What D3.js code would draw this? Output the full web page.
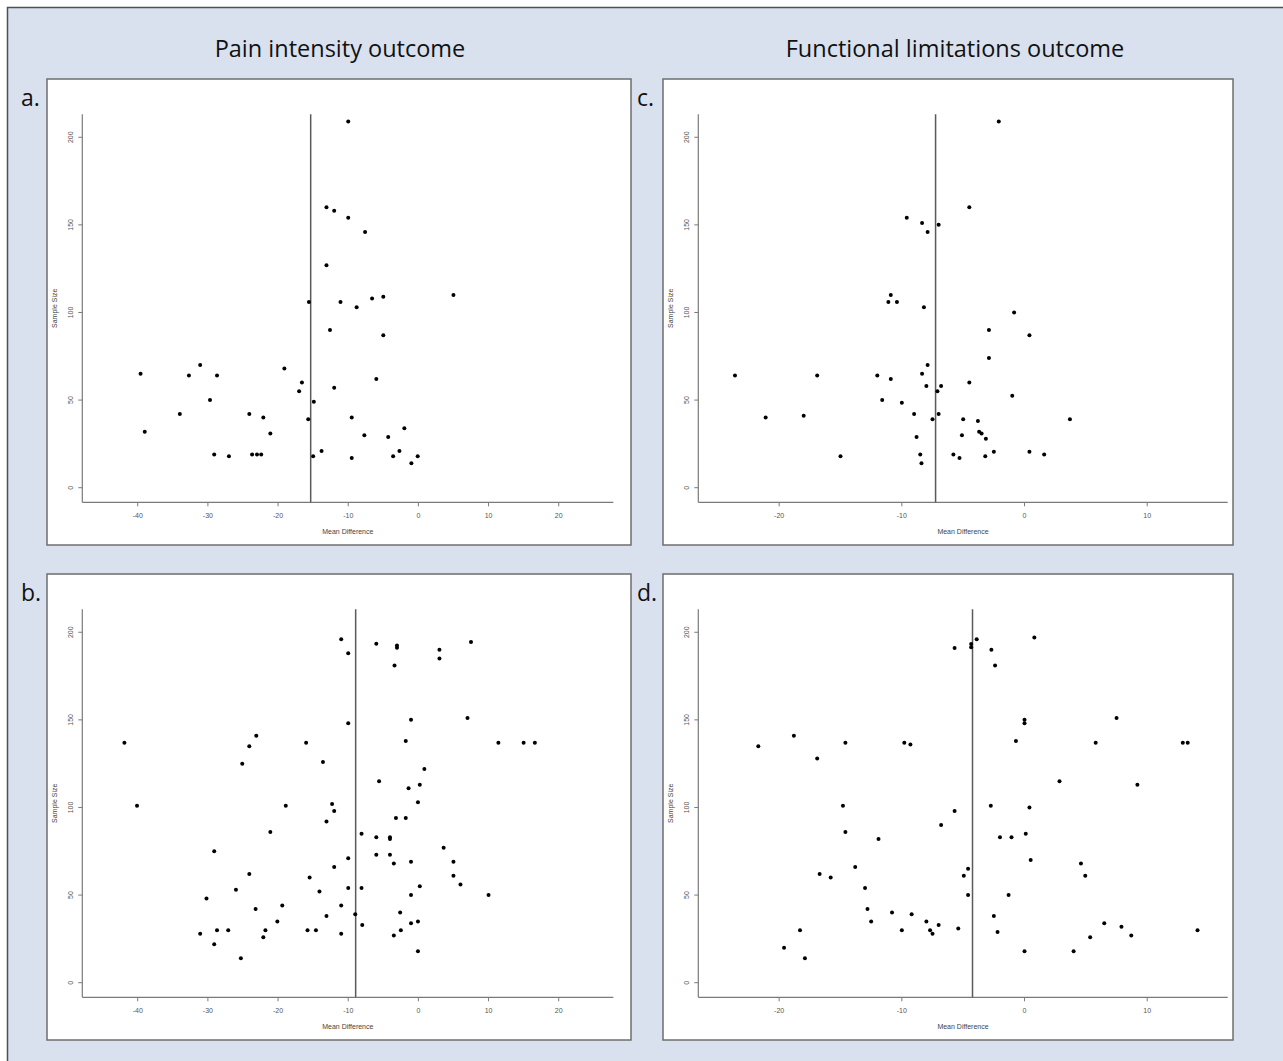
<!DOCTYPE html>
<html>
<head>
<meta charset="utf-8">
<script src="https://cdn.jsdelivr.net/npm/d3@7"></script>
<style>
  body { margin: 0; background: #fff; }
  svg { display: block; }
</style>
</head>
<body>
<div id="chart"></div>
<script>
// titles and panel letters
const columnTitles = ["Pain intensity outcome", "Functional limitations outcome"];
const panelLetters = ["a.", "b.", "c.", "d."];

// axis ticks
const yTicks = [0, 50, 100, 150, 200];
const painTicks = [-40, -30, -20, -10, 0, 10, 20];
const funcTicks = [-20, -10, 0, 10];

// pooled mean difference (vertical line) per panel
const pooled = {a: -15.35, b: -8.94, c: -7.25, d: -4.24};

// panel a: pain intensity, mean difference vs sample size
const aDiff = [-10.0, -13.1, -12.0, -10.0, -7.6, -13.1, -15.6, -11.1, -8.8, -6.6, -5.0, 5.0, -12.6, -5.0,
  -39.6, -39.0, -31.1, -32.7, -28.7, -29.7, -34.0, -24.1, -22.1, -21.1, -19.1, -16.6, -17.0, -14.9, -15.7,
  -29.1, -27.0, -23.7, -23.0, -22.4, -15.0, -13.8, -12.0, -9.5, -9.5, -6.0, -2.0, -7.7, -4.3, -2.7, -3.6, -0.1, -1.0];
const aSize = [209, 160, 158, 154, 146, 127, 106, 106, 103, 108, 109, 110, 90, 87,
  65, 32, 70, 64, 64, 50, 42, 42, 40, 31, 68, 60, 55, 49, 39,
  19, 18, 19, 19, 19, 18, 21, 57, 40, 17, 62, 34, 30, 29, 21, 18, 18, 14];

// panel b: pain intensity
const bDiff = [-41.9, -40.1, -23.1, -24.1, -25.1, -16.0, -13.6, -18.9, -13.1, -21.1, -29.1, -24.1, -26.0, -15.5,
  -14.1, -30.2, -23.2, -19.4, -20.1, -13.1, -31.1, -28.7, -27.1, -21.8, -22.1, -29.1, -25.3, -15.8, -14.6,
  -11.0, -10.0, -6.0, -3.05, -3.05, -3.4, 3.0, 3.0, 7.5, -10.0, -1.05, 7.0, -1.8, 11.4, 15.0, 16.6,
  0.85, -5.6, 0.2, -1.4, -0.06, -12.3, -12.0, -3.2, -1.8, -8.1, -6.0, -4.05, -4.05, 3.6, -10.0, -6.0,
  -4.05, -3.5, -1.05, 5.0, -12.0, 5.0, 6.0, -10.0, -8.1, 0.2, -1.05, 10.0, -11.0, -9.0, -2.6, -8.0,
  -1.05, -0.06, -2.5, -11.0, -3.5, -0.06];
const bSize = [137, 101, 141, 135, 125, 137, 126, 101, 92, 86, 75, 62, 53, 60,
  52, 48, 42, 44, 35, 38, 28, 30, 30, 30, 26, 22, 14, 30, 30,
  196, 188, 193.5, 192.4, 191.2, 181, 190, 185, 194.5, 148, 150, 151, 138, 137, 137, 137,
  122, 115, 113, 111, 103, 102, 98, 94, 94, 85, 83, 83, 82, 77, 71, 73,
  73, 68, 69, 69, 66, 61, 56, 54, 54, 55, 50, 50, 44, 39, 40, 33,
  34, 35, 30, 28, 27, 18];

// panel c: functional limitations
const cDiff = [-9.6, -8.35, -7.9, -7.0, -10.9, -11.1, -10.4, -8.2, -2.1, -4.5, -0.85, -23.6, -16.9, -21.1,
  -18.0, -15.0, -12.0, -10.9, -11.6, -10.0, -7.9, -8.35, -8.0, -6.8, -7.1, -9.0, -7.0, -7.5, -8.8,
  -8.5, -8.4, -2.9, 0.4, -2.9, -4.5, -1.0, -5.0, -3.8, 3.7, -5.1, -3.7, -3.5, -3.15, -2.5, -3.2,
  0.4, 1.6, -5.8, -5.3];
const cSize = [154, 151, 146, 150, 110, 106, 106, 103, 209, 160, 100, 64, 64, 40,
  41, 18, 64, 62, 50, 48.5, 70, 65, 58, 58, 55, 42, 42, 39, 29,
  19, 14, 90, 87, 74, 60, 52.5, 39, 38, 39, 30, 32, 31, 28, 20.5, 18,
  20.5, 19, 19, 17];

// panel d: functional limitations
const dDiff = [-21.7, -18.8, -16.9, -14.6, -9.8, -9.3, -5.7, -4.35, -4.35, -3.9, -2.7, -2.4, 0.8,
  0.0, 0.0, 7.5, -0.7, 5.8, 12.9, 13.3, 2.85, 9.2, -14.8, -5.7, -2.75, 0.4, -14.6, -6.8, -11.9,
  -2.0, -1.06, 0.1, 0.5, -13.8, -16.7, -15.8, -4.6, -4.95, 4.6, 4.95, -13.0, -4.6, -1.3, -12.8,
  -10.8, -9.2, -12.5, -8.0, -7.0, -2.5, -18.3, -10.0, -7.7, -7.5, -5.4, -2.2, -19.6, -17.9, 0.0,
  4.0, 5.35, 6.5, 7.9, 8.7, 14.1];
const dSize = [135, 141, 128, 137, 137, 136, 191, 193.3, 191.4, 196, 190, 181, 197,
  150, 148, 151, 138, 137, 137, 137, 115, 113, 101, 98, 101, 100, 86, 90, 82,
  83, 83, 85, 70, 66, 62, 60, 65, 61, 68, 61, 54, 50, 50, 42,
  40, 39, 35, 35, 33, 38, 30, 30, 30, 28, 31, 29, 20, 14, 18,
  18, 26, 34, 32, 27, 30];

const width = 1283, height = 1061;

const svg = d3.select("#chart")
  .append("svg")
    .attr("width", width)
    .attr("height", height);

// light blue backdrop with dark frame
svg.append("rect")
  .attr("x", 7.5).attr("y", 7.5)
  .attr("width", width + 20).attr("height", height + 20)
  .attr("fill", "#d9e1ef")
  .attr("stroke", "#505050")
  .attr("stroke-width", 1.5);

svg.selectAll("text.coltitle")
  .data(columnTitles)
  .join("text")
    .attr("class", "coltitle")
    .attr("x", (d, i) => i === 0 ? 340 : 955)
    .attr("y", 57)
    .attr("text-anchor", "middle")
    .attr("font-family", "Open Sans, sans-serif")
    .attr("font-size", "23.5px")
    .attr("fill", "#111")
    .text(d => d);

// panel layout
const boxH = 466;
const margin = {top: 35.3, bottom: 42.7, left: 35.3};

const panels = [
  {key: "a", x0: 47, y0: 79, w: 584, right: 17.7, diff: aDiff, size: aSize, xlim: [-47.9, 27.78], ticks: painTicks},
  {key: "b", x0: 47, y0: 574, w: 584, right: 17.7, diff: bDiff, size: bSize, xlim: [-47.9, 27.78], ticks: painTicks},
  {key: "c", x0: 663, y0: 79, w: 570, right: 5.3, diff: cDiff, size: cSize, xlim: [-26.59, 16.56], ticks: funcTicks},
  {key: "d", x0: 663, y0: 574, w: 570, right: 5.3, diff: dDiff, size: dSize, xlim: [-26.59, 16.56], ticks: funcTicks}
];

panels.forEach((p, i) => {
  // letter label
  svg.append("text")
    .attr("x", p.x0 - 26)
    .attr("y", p.y0 + 27)
    .attr("font-family", "Open Sans, sans-serif")
    .attr("font-size", "23px")
    .attr("fill", "#111")
    .text(panelLetters[i === 0 ? 0 : i === 1 ? 1 : i === 2 ? 2 : 3]);

  const g = svg.append("g")
    .attr("transform", `translate(${p.x0}, ${p.y0})`);

  g.append("rect")
    .attr("width", p.w).attr("height", boxH)
    .attr("fill", "#fff")
    .attr("stroke", "#6e6e6e")
    .attr("stroke-width", 1.5);

  const x = d3.scaleLinear()
    .domain(p.xlim)
    .range([margin.left, p.w - p.right]);
  const y = d3.scaleLinear()
    .domain([-8.33, 213.1])
    .range([boxH - margin.bottom, margin.top]);

  const axisColor = "#7a7a7a";
  const x1 = x.range()[0], x2 = x.range()[1];
  const yb = y.range()[0], yt = y.range()[1];

  // axis lines (L shape)
  g.append("line")
    .attr("x1", x1).attr("x2", x1).attr("y1", yt).attr("y2", yb)
    .attr("stroke", axisColor).attr("stroke-width", 1.2);
  g.append("line")
    .attr("x1", x1).attr("x2", x2).attr("y1", yb).attr("y2", yb)
    .attr("stroke", axisColor).attr("stroke-width", 1.2);

  // x ticks
  g.selectAll("line.xt")
    .data(p.ticks)
    .join("line")
      .attr("x1", d => x(d)).attr("x2", d => x(d))
      .attr("y1", yb).attr("y2", yb + 4)
      .attr("stroke", axisColor);
  g.selectAll("text.xt")
    .data(p.ticks)
    .join("text")
      .attr("class", "xt")
      .attr("x", d => x(d))
      .attr("y", yb + 16)
      .attr("text-anchor", "middle")
      .attr("font-family", "Liberation Sans, Arial, sans-serif")
      .attr("font-size", "7px")
      .attr("fill", "#555")
      .text(d => d);

  // y ticks
  g.selectAll("line.yt")
    .data(yTicks)
    .join("line")
      .attr("x1", x1 - 4).attr("x2", x1)
      .attr("y1", d => y(d)).attr("y2", d => y(d))
      .attr("stroke", axisColor);
  g.selectAll("text.yt")
    .data(yTicks)
    .join("text")
      .attr("class", "yt")
      .attr("transform", d => `translate(${x1 - 9}, ${y(d)}) rotate(-90)`)
      .attr("text-anchor", "middle")
      .attr("font-family", "Liberation Sans, Arial, sans-serif")
      .attr("font-size", "7px")
      .attr("fill", "#555")
      .text(d => d);

  // axis titles
  g.append("text")
    .attr("x", (x1 + x2) / 2)
    .attr("y", yb + 32)
    .attr("text-anchor", "middle")
    .attr("font-family", "Liberation Sans, Arial, sans-serif")
    .attr("font-size", "7px")
    .attr("fill", "#444")
    .text("Mean Difference");
  g.append("text")
    .attr("transform", `translate(${x1 - 25}, ${(yt + yb) / 2}) rotate(-90)`)
    .attr("text-anchor", "middle")
    .attr("font-family", "Liberation Sans, Arial, sans-serif")
    .attr("font-size", "7px")
    .attr("fill", "#444")
    .text("Sample Size");

  // pooled estimate line
  g.append("line")
    .attr("x1", x(pooled[p.key])).attr("x2", x(pooled[p.key]))
    .attr("y1", yt).attr("y2", yb)
    .attr("stroke", "#5a5a5a")
    .attr("stroke-width", 1.5);

  // study points
  g.selectAll("circle")
    .data(d3.zip(p.diff, p.size))
    .join("circle")
      .attr("cx", d => x(d[0]))
      .attr("cy", d => y(d[1]))
      .attr("r", 2)
      .attr("fill", "#000");
});
</script>
</body>
</html>
